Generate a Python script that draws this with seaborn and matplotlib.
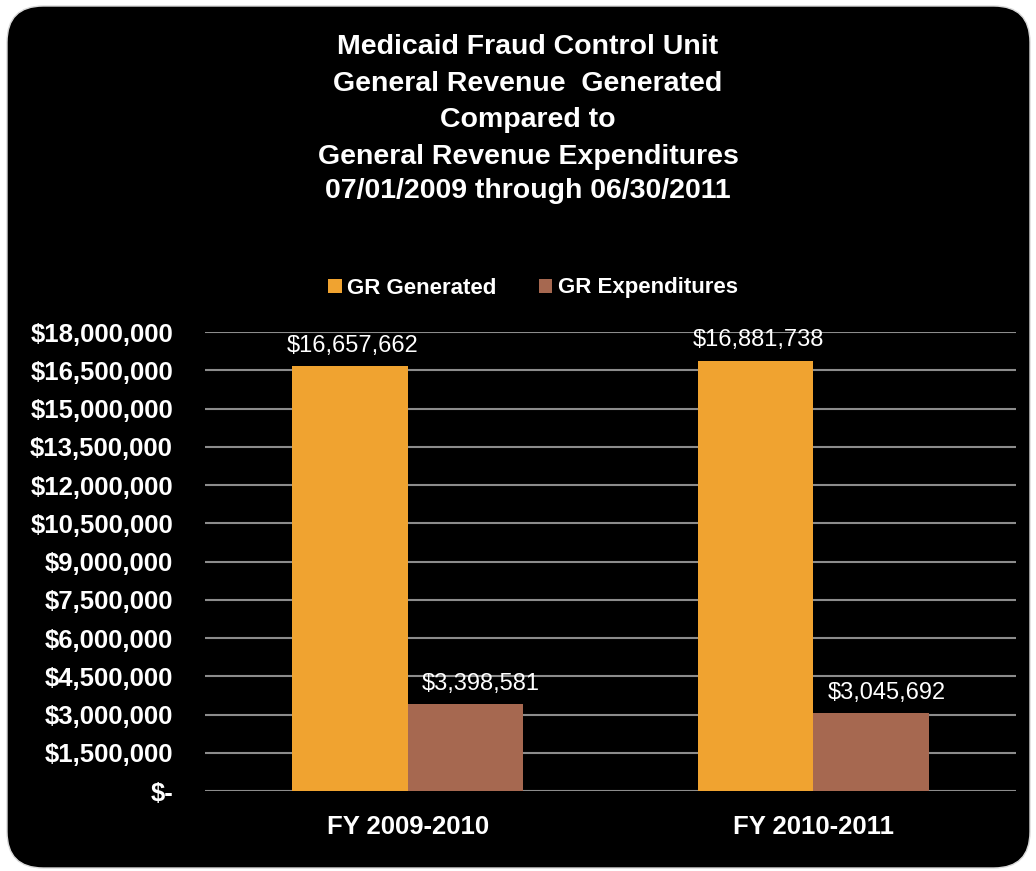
import matplotlib
matplotlib.use("Agg")
import matplotlib.pyplot as plt
import seaborn as sns
import pandas as pd
from matplotlib.patches import FancyBboxPatch, Patch
from matplotlib.ticker import FuncFormatter, MultipleLocator

categories = ["FY 2009-2010", "FY 2010-2011"]
series_names = ["GR Generated", "GR Expenditures"]
gr_generated = [16657662, 16881738]
gr_expenditures = [3398581, 3045692]
colors = ["#F0A330", "#A66850"]
title_lines = ["Medicaid Fraud Control Unit", "General Revenue  Generated", "Compared to",
               "General Revenue Expenditures", "07/01/2009 through 06/30/2011"]

df = pd.DataFrame({
    "Year": categories * 2,
    "Series": [series_names[0]] * 2 + [series_names[1]] * 2,
    "Value": gr_generated + gr_expenditures,
})

sns.set_theme(style="dark")
SANS = ["Liberation Sans", "DejaVu Sans"]
plt.rcParams["font.family"] = SANS

fig = plt.figure(figsize=(10.36, 8.71), dpi=100)
fig.patch.set_facecolor("white")
W, H = 1036, 871
bg = FancyBboxPatch((7 / W, 3 / H), (1030 - 7) / W, (865 - 3) / H,
                    boxstyle="round,pad=0,rounding_size=0.035",
                    transform=fig.transFigure, facecolor="black", edgecolor="#D9D9D9",
                    linewidth=1, zorder=-5, mutation_aspect=W / H)
fig.patches.append(bg)

ax = fig.add_axes([205 / W, 1 - 791 / H, (1016 - 205) / W, (791 - 332) / H])
ax.set_zorder(2)
ax.set_facecolor("black")
sns.barplot(data=df, x="Year", y="Value", hue="Series", palette=colors,
            width=0.57, gap=0, ax=ax, legend=False, saturation=1, zorder=3,
            linewidth=0, edgecolor="none")

ax.set_ylim(0, 18000000)
ax.yaxis.set_major_locator(MultipleLocator(1500000))
ax.yaxis.set_major_formatter(FuncFormatter(lambda v, p: "$-" if v == 0 else f"${v:,.0f}"))
ax.grid(axis="y", color="#8C8C8C", linewidth=1.5, zorder=0)
ax.grid(axis="x", visible=False)
ax.set_axisbelow(True)
for s in ax.spines.values():
    s.set_visible(False)
ax.set_xlabel("")
ax.set_ylabel("")
ax.tick_params(axis="y", length=0, pad=23, labelcolor="white")
ax.tick_params(axis="x", length=0, pad=17, labelcolor="white")
for lbl in ax.get_yticklabels():
    lbl.set_fontsize(18.5)
    lbl.set_fontweight("bold")
for lbl in ax.get_xticklabels():
    lbl.set_fontsize(18.5)
    lbl.set_fontweight("bold")

shifts = [2, 11]
for cont, sh in zip(ax.containers, shifts):
    labels = [f"${v:,.0f}" for v in cont.datavalues]
    anns = ax.bar_label(cont, labels=labels, padding=7, color="white", fontsize=17)
    for a in anns:
        a.xyann = (sh, 7)

ys = [47, 84, 120, 157, 191]
for t, y in zip(title_lines, ys):
    fig.text(528 / W, 1 - y / H, t, ha="center", va="center", color="white",
             fontsize=20.5, fontweight="bold")

handles = [Patch(facecolor=c, edgecolor="none") for c in colors]
leg = fig.legend(handles, series_names, loc="center", bbox_to_anchor=(533 / W, 1 - 288 / H),
                 ncol=2, frameon=False, handlelength=0.6, handleheight=0.6,
                 handletextpad=0.25, columnspacing=1.9,
                 prop={"size": 16, "weight": "bold"})
for t in leg.get_texts():
    t.set_color("white")

fig.savefig("out.png", dpi=100, facecolor=fig.get_facecolor())
